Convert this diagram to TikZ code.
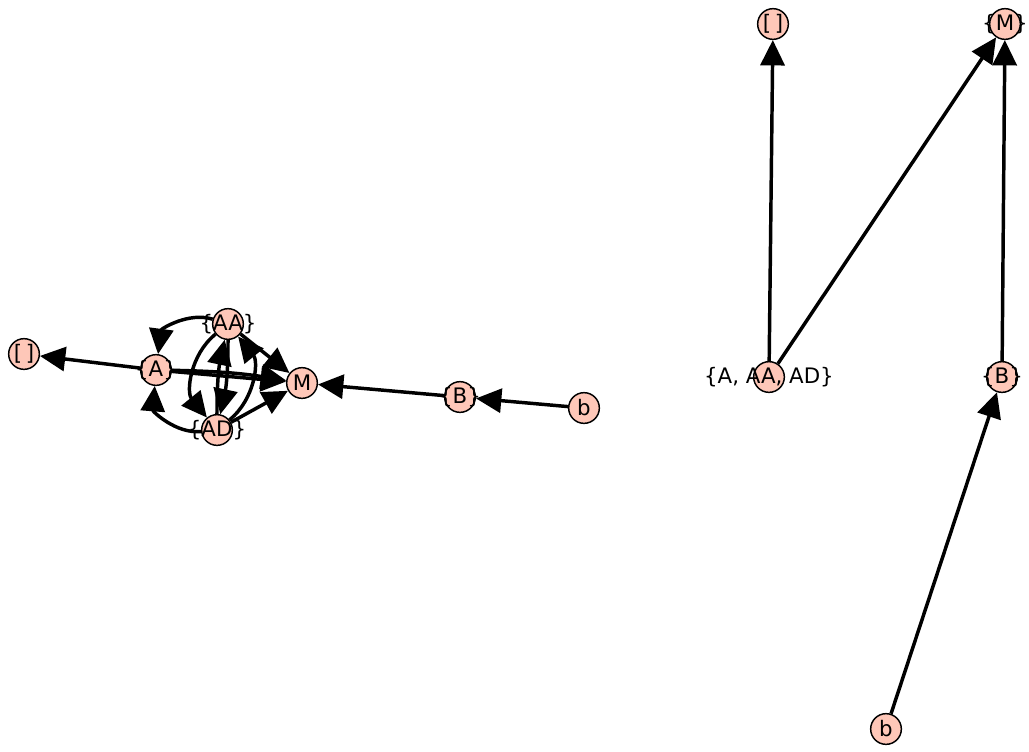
\documentclass[tikz,border=0pt]{standalone}
\usepackage{fontspec}
\setmainfont{DejaVu Sans}
\usetikzlibrary{arrows.meta}
\pgfdeclarelayer{bg}\pgfsetlayers{bg,main}
\definecolor{vfill}{HTML}{FEC7B8}
\begin{document}
\begin{tikzpicture}[x=0.75pt,y=-0.75pt,
  vtx/.style={circle,draw=black,line width=1.1pt,fill=vfill,minimum size=23pt,inner sep=0pt},
  lbl/.style={font=\fontsize{16}{16}\selectfont,inner sep=0pt},
  edge/.style={line width=2.6pt,-{Triangle[length=19pt,width=18pt]}}]
\useasboundingbox (0,0) rectangle (1029,751);
% left component
\node[vtx,label={[lbl]center:[\,]}] (E1) at (24,354) {};
\node[vtx,label={[lbl]center:\{A\}}] (A) at (156,370) {};
\node[vtx,label={[lbl]center:\{AA\}}] (AA) at (228,324) {};
\node[vtx,label={[lbl]center:\{AD\}}] (AD) at (217,430) {};
\node[vtx,label={[lbl]center:M}] (M1) at (302,383) {};
\node[vtx,label={[lbl]center:\{B\}}] (B1) at (460,397) {};
\node[vtx,label={[lbl]center:b}] (b1) at (584,408) {};
% right component
\node[vtx,label={[lbl]center:[\,]}] (E2) at (773,24) {};
\node[vtx,label={[lbl]center:\{M\}}] (M2) at (1005,24) {};
\node[vtx,label={[lbl]center:\{A, AA, AD\}}] (S) at (769,377) {};
\node[vtx,label={[lbl]center:\{B\}}] (B2) at (1002,377) {};
\node[vtx,label={[lbl]center:b}] (b2) at (886,729) {};
\begin{pgfonlayer}{bg}
\draw[edge] (A) -- (E1);
\draw[edge] (AA) to[bend right=50] (A);
\draw[edge] (AD) to[bend left=50] (A);
\draw[edge] (A) -- (M1);
\draw[edge] (A) to[bend left=4] (M1);
\draw[edge] (AA) -- (M1);
\draw[edge] (AD) -- (M1);
\draw[edge] (AA) to[bend right=45] (AD);
\draw[edge] (AD) to[bend right=45] (AA);
\draw[edge] (AA) to[bend left=6] (AD);
\draw[edge] (AD) to[bend left=6] (AA);
\draw[edge] (B1) -- (M1);
\draw[edge] (b1) -- (B1);
\draw[edge] (S) -- (E2);
\draw[edge] (S) -- (M2);
\draw[edge] (B2) -- (M2);
\draw[edge] (b2) -- (B2);
\end{pgfonlayer}
\end{tikzpicture}
\end{document}
